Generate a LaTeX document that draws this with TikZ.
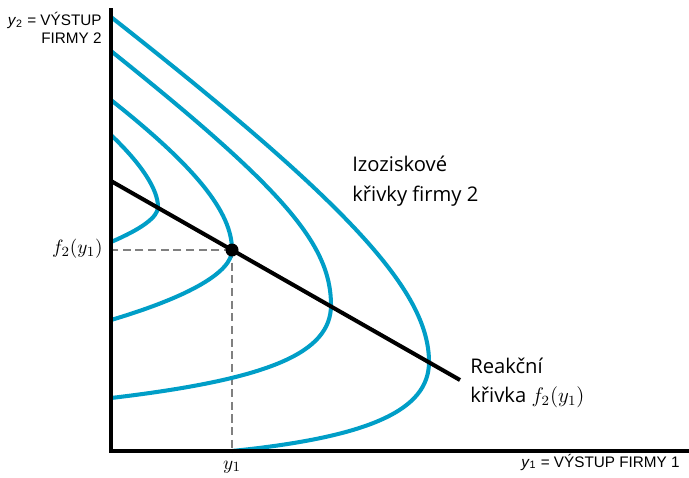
\documentclass[tikz,border=0pt]{standalone}
\usepackage{fontspec}
\setmainfont{Open Sans}
\newfontfamily\axisfont{Liberation Sans}
\usetikzlibrary{positioning}
\definecolor{isocyan}{RGB}{0,158,199}
\tikzstyle{axis}       = [line width=2pt, black]
\tikzstyle{isoprofit}  = [line width=2.3pt, isocyan]
\tikzstyle{reaction}   = [line width=2.3pt, black]
\tikzstyle{guide}      = [line width=0.9pt, gray, dash pattern=on 4.6pt off 2.6pt]
\tikzstyle{axislabel}  = [inner sep=0pt, font=\axisfont\fontsize{8.7}{10}\selectfont]
\tikzstyle{curvelabel} = [inner sep=0pt, font=\fontsize{11.5}{14}\selectfont]
\tikzstyle{mathlabel}  = [inner sep=0pt, font=\fontsize{11}{13}\selectfont]

\begin{document}
\begin{tikzpicture}[x=0.02cm, y=-0.02cm]
    \useasboundingbox (0,0) rectangle (689,477);

        % Osy
        \coordinate (O) at (111,451);
        \coordinate (ytop) at (111,8);
        \coordinate (xend) at (689,451);

        % Reakční křivka
        \coordinate (r0) at (111,181);
        \coordinate (r1) at (460,380);
        \coordinate (eq) at (232,250);

        % Pomocné čáry
        \draw[guide] (eq) -- (eq -| O);
        \draw[guide] (eq) -- (eq |- O);

        % Izoziskové křivky
        \draw[isoprofit]
            (111,135) .. controls (141.5,164) and (158,189.5) .. (158,207)
                      .. controls (158,217) and (141.5,229) .. (111,242);
        \draw[isoprofit]
            (111,100) .. controls (195.7,167) and (232,212) .. (eq)
                      .. controls (232,272) and (189.6,296.6) .. (111,320);
        \draw[isoprofit]
            (111,51) .. controls (282.6,188.3) and (331,244) .. (331,305)
                     .. controls (331,353) and (269.4,379.3) .. (111,398);
        \draw[isoprofit]
            (111,17) .. controls (350,205) and (429,291.5) .. (429,362)
                     .. controls (429,410) and (370,437) .. (232,451);

        \draw[reaction] (r0) -- (r1);
        \fill (eq) circle (3.7pt);

        \draw[axis] (ytop) -- (O) -- (xend);

        % Popisky os
        \node[axislabel, anchor=base east] (ylab1) at (102,25)
            {\textit{y}\textsubscript{2} = VÝSTUP};
        \node[axislabel, anchor=base east] (ylab2) at (102,43)
            {FIRMY 2};
        \node[axislabel, anchor=base east] (xlab) at (680,467)
            {\textit{y}\textsubscript{1} = VÝSTUP FIRMY 1};
        \node[mathlabel, anchor=base] (y1lab) at (232,469) {\(y_1\)};
        \node[mathlabel, anchor=east] (f2lab) at (103,249) {\(f_2(y_1)\)};

        % Popisky křivek
        \node[curvelabel, anchor=base west] (izo1) at (352,171) {Izoziskové};
        \node[curvelabel, anchor=base west] (izo2) at (352,201) {křivky firmy 2};
        \node[curvelabel, anchor=base west] (reak1) at (470,373) {Reakční};
        \node[curvelabel, anchor=base west] (reak2) at (470,402) {křivka \(f_2(y_1)\)};

\end{tikzpicture}
\end{document}
